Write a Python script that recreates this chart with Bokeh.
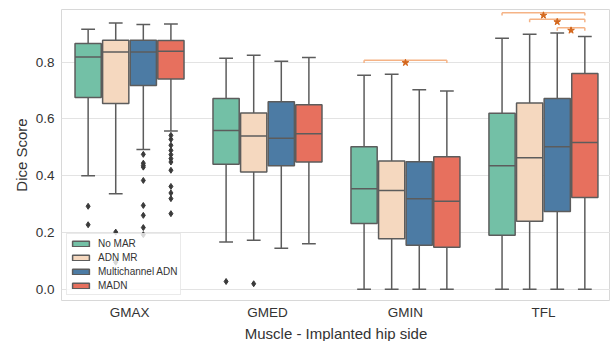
from bokeh.plotting import figure
from bokeh.models import ColumnDataSource, FixedTicker, NumeralTickFormatter, Range1d, Title
from bokeh.embed import file_html
from bokeh.resources import INLINE

# ---------------- data ----------------
categories = ["GMAX", "GMED", "GMIN", "TFL"]
methods = ["No MAR", "ADN MR", "Multichannel ADN", "MADN"]
colors = ["#73c0a6", "#f5d8bf", "#4c7ba4", "#e7705e"]

no_mar_q1 = [0.675, 0.440, 0.231, 0.190]
no_mar_med = [0.818, 0.559, 0.354, 0.435]
no_mar_q3 = [0.866, 0.672, 0.502, 0.620]
no_mar_lo = [0.400, 0.166, 0.000, 0.000]
no_mar_hi = [0.916, 0.814, 0.754, 0.884]

adn_q1 = [0.654, 0.413, 0.178, 0.239]
adn_med = [0.836, 0.540, 0.348, 0.463]
adn_q3 = [0.877, 0.621, 0.452, 0.656]
adn_lo = [0.336, 0.172, 0.000, 0.000]
adn_hi = [0.938, 0.824, 0.757, 0.898]

mc_q1 = [0.718, 0.435, 0.155, 0.274]
mc_med = [0.836, 0.532, 0.319, 0.502]
mc_q3 = [0.877, 0.660, 0.449, 0.672]
mc_lo = [0.492, 0.144, 0.000, 0.000]
mc_hi = [0.933, 0.803, 0.703, 0.903]

madn_q1 = [0.741, 0.448, 0.148, 0.323]
madn_med = [0.838, 0.548, 0.310, 0.517]
madn_q3 = [0.876, 0.650, 0.467, 0.760]
madn_lo = [0.557, 0.160, 0.000, 0.000]
madn_hi = [0.934, 0.816, 0.698, 0.890]

no_mar_out_cat = ["GMAX", "GMAX", "GMED"]
no_mar_out_val = [0.292, 0.227, 0.027]
adn_out_cat = ["GMAX", "GMAX", "GMED"]
adn_out_val = [0.201, 0.095, 0.019]
mc_out_cat = ["GMAX"] * 9
mc_out_val = [0.475, 0.444, 0.436, 0.430, 0.383, 0.295, 0.260, 0.217, 0.192]
madn_out_cat = ["GMAX"] * 12
madn_out_val = [0.542, 0.528, 0.507, 0.489, 0.474, 0.460, 0.448, 0.419,
                0.362, 0.339, 0.319, 0.266]

# significance brackets
sig_category = ["GMIN", "TFL", "TFL", "TFL"]
sig_from = ["No MAR", "No MAR", "ADN MR", "Multichannel ADN"]
sig_to = ["MADN", "MADN", "MADN", "MADN"]
sig_level = [0.807, 0.974, 0.951, 0.921]

x_title = "Muscle - Implanted hip side"
y_title = "Dice Score"

stats = [
    (no_mar_q1, no_mar_med, no_mar_q3, no_mar_lo, no_mar_hi, no_mar_out_cat, no_mar_out_val),
    (adn_q1, adn_med, adn_q3, adn_lo, adn_hi, adn_out_cat, adn_out_val),
    (mc_q1, mc_med, mc_q3, mc_lo, mc_hi, mc_out_cat, mc_out_val),
    (madn_q1, madn_med, madn_q3, madn_lo, madn_hi, madn_out_cat, madn_out_val),
]

# ---------------- layout / style ----------------
FONT = "Liberation Sans"
EDGE = "#5c5c5c"
BOX_W = 0.19
CAP_W = 0.10
offsets = [-0.3, -0.1, 0.1, 0.3]
X0, X1 = -0.493, 3.486

p = figure(width=610, height=341, output_backend="svg", toolbar_location=None,
           x_range=Range1d(X0, X1), y_range=Range1d(-0.040, 0.9855),
           min_border_left=61, min_border_right=0, min_border_top=9,
           min_border_bottom=39)

p.outline_line_color = "#d8d8d8"
p.outline_line_width = 1
p.xgrid.visible = False
p.ygrid.grid_line_color = "#e3e3e3"
p.ygrid.grid_line_width = 1
p.ygrid.ticker = FixedTicker(ticks=[0.0, 0.2, 0.4, 0.6, 0.8])

for ax in (p.xaxis[0], p.yaxis[0]):
    ax.axis_line_color = None
    ax.major_tick_line_color = None
    ax.minor_tick_line_color = None
    ax.major_tick_out = 0
    ax.major_tick_in = 0
    ax.minor_tick_out = 0
    ax.minor_tick_in = 0
    ax.major_label_text_font = FONT
    ax.major_label_text_font_size = "13.5px"
    ax.major_label_text_color = "#333333"
    ax.axis_label_text_font = FONT
    ax.axis_label_text_font_size = "15px"
    ax.axis_label_text_font_style = "normal"
    ax.axis_label_text_color = "#333333"

p.yaxis.ticker = FixedTicker(ticks=[0.0, 0.2, 0.4, 0.6, 0.8])
p.yaxis.formatter = NumeralTickFormatter(format="0.0")
p.yaxis.major_label_standoff = 7
p.yaxis.axis_label = y_title
p.yaxis.axis_label_standoff = 3

p.xaxis.ticker = FixedTicker(ticks=list(range(len(categories))))
p.xaxis.major_label_overrides = {i: c for i, c in enumerate(categories)}
p.xaxis.major_label_standoff = 4

# x-axis title as a title panel below the axis
p.add_layout(Title(text=x_title, align="center", text_font=FONT,
                   text_font_size="15px", text_font_style="normal",
                   text_color="#333333", standoff=0, offset=0), "below")

cat_index = {c: i for i, c in enumerate(categories)}
meth_index = {m: i for i, m in enumerate(methods)}

for k, (q1, med, q3, lo, hi, oc, ov) in enumerate(stats):
    xs = [i + offsets[k] for i in range(len(categories))]
    src = ColumnDataSource(dict(
        x=xs, q1=q1, med=med, q3=q3, lo=lo, hi=hi,
        bl=[x - BOX_W / 2 for x in xs], br=[x + BOX_W / 2 for x in xs],
        cl=[x - CAP_W / 2 for x in xs], cr=[x + CAP_W / 2 for x in xs],
    ))
    # whiskers
    p.segment(x0="x", y0="q3", x1="x", y1="hi", source=src,
              line_color=EDGE, line_width=1.5)
    p.segment(x0="x", y0="q1", x1="x", y1="lo", source=src,
              line_color=EDGE, line_width=1.5)
    # caps
    p.segment(x0="cl", y0="hi", x1="cr", y1="hi", source=src,
              line_color=EDGE, line_width=1.5)
    p.segment(x0="cl", y0="lo", x1="cr", y1="lo", source=src,
              line_color=EDGE, line_width=1.5)
    # boxes
    p.vbar(x="x", width=BOX_W, bottom="q1", top="q3", source=src,
           fill_color=colors[k], line_color=EDGE, line_width=1.5,
           legend_label=methods[k])
    # medians
    p.segment(x0="bl", y0="med", x1="br", y1="med", source=src,
              line_color=EDGE, line_width=1.5)
    # outliers
    osrc = ColumnDataSource(dict(
        x=[cat_index[c] + offsets[k] for c in oc], y=ov))
    p.scatter(x="x", y="y", source=osrc, marker="diamond", size=6,
              fill_color="#3a3a3a", line_color="#3a3a3a")

# significance brackets
TICK = 0.010
bx0, bx1, by, by0 = [], [], [], []
sx, sy = [], []
for c, a, b, lv in zip(sig_category, sig_from, sig_to, sig_level):
    xa = cat_index[c] + offsets[meth_index[a]]
    xb = cat_index[c] + offsets[meth_index[b]]
    bx0.append(xa)
    bx1.append(xb)
    by.append(lv)
    by0.append(lv - TICK)
    sx.append((xa + xb) / 2)
    sy.append(lv - 0.009)
bsrc = ColumnDataSource(dict(x0=bx0, x1=bx1, y=by, y0=by0, sx=sx, sy=sy))
BR_COL = "#f5b386"
p.segment(x0="x0", y0="y", x1="x1", y1="y", source=bsrc, line_color=BR_COL, line_width=1.5)
p.segment(x0="x0", y0="y", x1="x0", y1="y0", source=bsrc, line_color=BR_COL, line_width=1.5)
p.segment(x0="x1", y0="y", x1="x1", y1="y0", source=bsrc, line_color=BR_COL, line_width=1.5)
p.scatter(x="sx", y="sy", source=bsrc, marker="star", size=7,
          fill_color="#d4671c", line_color="#d4671c")

# legend
lg = p.legend[0]
lg.location = "bottom_left"
lg.margin = 5
lg.padding = 3
lg.spacing = 2
lg.label_height = 12
lg.glyph_height = 7
lg.glyph_width = 21
lg.label_standoff = 7
lg.label_text_font = FONT
lg.label_text_font_size = "10px"
lg.label_text_color = "#333333"
lg.border_line_color = "#d5d5d5"
lg.border_line_width = 1
lg.background_fill_alpha = 0.8

open("out.html", "w").write(file_html(p, INLINE))
